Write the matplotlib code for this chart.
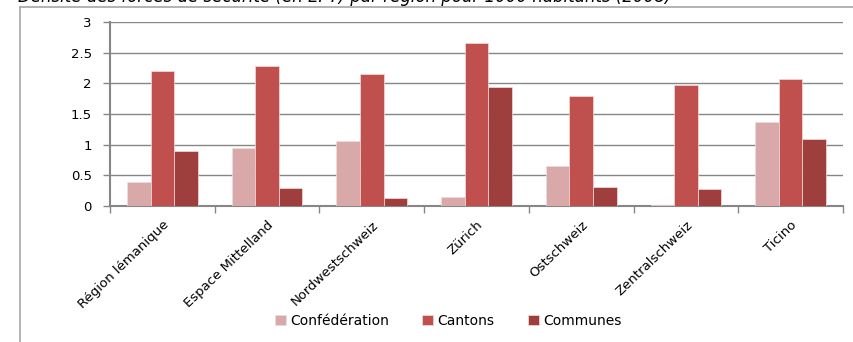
import matplotlib.pyplot as plt
import numpy as np
from matplotlib.lines import Line2D

regions = ["Région lémanique", "Espace Mittelland", "Nordwestschweiz", "Zürich",
           "Ostschweiz", "Zentralschweiz", "Ticino"]
confederation = [0.39, 0.95, 1.06, 0.15, 0.66, 0.01, 1.37]
cantons = [2.20, 2.28, 2.16, 2.66, 1.80, 1.97, 2.07]
communes = [0.89, 0.29, 0.13, 1.94, 0.31, 0.27, 1.10]
series_names = ["Confédération", "Cantons", "Communes"]
colors = ["#D9A9A9", "#C0504D", "#9E3F3D"]
title = "Densité des forces de sécurité (en EPT) par région pour 1000 habitants (2008)"

plt.rcParams['font.family'] = ['DejaVu Sans']
GRAY = "#868686"

fig = plt.figure(figsize=(8.54, 3.42), dpi=100)
ax = fig.add_axes([110 / 854, 1 - 206 / 342, (843 - 110) / 854, (206 - 22) / 342])

x = np.arange(len(regions))
w = 0.225
for i, (vals, name) in enumerate(zip([confederation, cantons, communes], series_names)):
    ax.bar(x + (i - 1) * w, vals, w, color=colors[i], label=name,
           edgecolor="#F2DCDB", linewidth=0.5, zorder=3)

ax.set_xlim(-0.5, len(regions) - 0.5)
ax.set_ylim(0, 3)
ax.set_yticks(np.arange(0, 3.01, 0.5))
ax.set_yticklabels(["0", "0.5", "1", "1.5", "2", "2.5", "3"])
ax.yaxis.grid(True, color=GRAY, linewidth=1, zorder=0)
ax.set_xticks(x)
ax.set_xticklabels(regions, rotation=44, ha="right", rotation_mode="anchor", fontsize=9.5)
ax.set_xticks(np.arange(-0.5, len(regions), 1), minor=True)
ax.tick_params(axis="x", which="major", length=0, pad=9)
ax.tick_params(axis="x", which="minor", length=5, color=GRAY, width=1)
ax.tick_params(axis="y", length=5, color=GRAY, width=1, labelsize=9.5, pad=8)

for s in ["top", "right"]:
    ax.spines[s].set_visible(False)
for s in ["left", "bottom"]:
    ax.spines[s].set_color(GRAY)
    ax.spines[s].set_linewidth(1.5)

# chart frame
fig.add_artist(Line2D([20 / 854, 20 / 854], [0, 1 - 7 / 342], transform=fig.transFigure,
                      color="#A6A6A6", linewidth=1.2))
fig.add_artist(Line2D([20 / 854, 1], [1 - 7 / 342, 1 - 7 / 342], transform=fig.transFigure,
                      color="#A6A6A6", linewidth=1.2))

fig.text(18 / 854, 1 - 2.5 / 342, title, fontsize=12, style="italic", ha="left", va="baseline")

handles, labels = ax.get_legend_handles_labels()
fig.legend(handles, labels, loc="center", bbox_to_anchor=(448 / 854, 1 - 321 / 342), ncol=3,
           frameon=False, fontsize=10, handlelength=0.8, handleheight=0.8,
           handletextpad=0.3, columnspacing=2.4)

plt.savefig("out.png", dpi=100)
